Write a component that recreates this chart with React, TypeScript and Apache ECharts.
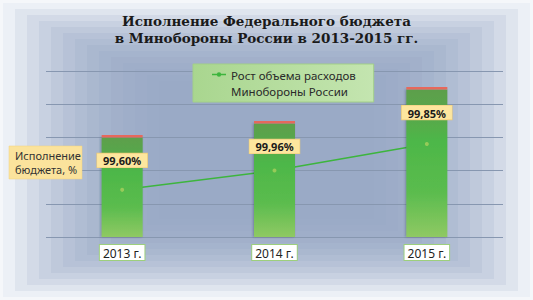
import React, { useEffect, useRef } from "react";
import * as echarts from "echarts";

const categories = ["2013 г.", "2014 г.", "2015 г."];
const executedValues = [1500, 1710, 2220];
const unexecutedValues = [36, 36, 38];
const executionPercent = ["99,60%", "99,96%", "99,85%"];
const growthValues = [710, 1000, 1400];
const yTicks = [0, 500, 1000, 1500, 2000, 2500];

const titleText = "Исполнение Федерального бюджета\nв Минобороны России в 2013-2015 гг.";
const lineName = "Рост объема расходов\nМинобороны России";
const sideNote = "Исполнение\nбюджета, %";

function mix(a: number[], b: number[], t: number) {
  const c = a.map((v, i) => Math.round(v + (b[i] - v) * t));
  return `rgb(${c[0]},${c[1]},${c[2]})`;
}

export default function App() {
  const ref = useRef<HTMLDivElement>(null);
  useEffect(() => {
    document.body.style.margin = "0";
    if (!ref.current) return;
    const chart = echarts.init(ref.current, null, { renderer: "svg" });

    const bg: any[] = [
      { type: "rect", shape: { x: 0, y: 0, width: 533, height: 300 }, style: { fill: "#f5f7fa" }, silent: true, z: -20 },
    ];
    const N = 16;
    const outer = [236, 240, 246];
    const inner = [154, 170, 198];
    for (let i = 1; i <= N; i++) {
      const x = 3 + (i - 1) * 12;
      const y = 3 + (i - 1) * 6;
      const t = 1 - Math.pow(1 - (i - 1) / (N - 1), 2.6);
      bg.push({
        type: "rect",
        shape: { x, y, width: 533 - 2 * x, height: 300 - 2 * y },
        style: { fill: mix(outer, inner, t) },
        silent: true,
        z: -20 + i * 0.01,
      });
    }
    bg.push({
      type: "rect",
      shape: { x: 9, y: 146, width: 73, height: 33 },
      style: { fill: "#fbe39c", stroke: "#f1d27e", lineWidth: 0.5 },
      z: 10,
    });
    bg.push({
      type: "text",
      x: 15,
      y: 162.5,
      style: {
        text: sideNote,
        fill: "#333333",
        font: "11px 'Noto Sans'",
        lineHeight: 14,
        verticalAlign: "middle",
        align: "left",
      },
      z: 11,
    });

    const greenGrad = new echarts.graphic.LinearGradient(0, 0, 0, 1, [
      { offset: 0, color: "#5c9f4b" },
      { offset: 0.2, color: "#57a94b" },
      { offset: 0.35, color: "#4db748" },
      { offset: 0.7, color: "#5bbc4e" },
      { offset: 1, color: "#8fc963" },
    ]);

    chart.setOption({
      animation: false,
      title: {
        text: titleText,
        left: "center",
        top: 7,
        textStyle: {
          fontFamily: "DejaVu Serif",
          fontWeight: "bold",
          fontSize: 13.5,
          lineHeight: 17,
          color: "#1a1a1a",
        },
      },
      graphic: bg,
      legend: {
        data: [lineName],
        left: 193,
        top: 64,
        orient: "vertical",
        padding: [3, 18, 3, 19],
        backgroundColor: {
          type: "linear",
          x: 0,
          y: 0,
          x2: 1,
          y2: 0,
          colorStops: [
            { offset: 0, color: "#a9d68f" },
            { offset: 1, color: "#c4e5b0" },
          ],
        },
        borderColor: "#a2cf88",
        borderWidth: 1,
        itemWidth: 14,
        itemHeight: 32,
        icon: "path://M0,0 L0,0 M0,6.8 L14,6.8 L14,8.2 L0,8.2 Z M7,5.3 A2.2,2.2 0 1 1 7,9.7 A2.2,2.2 0 1 1 7,5.3 Z M14,32 L14,32",
        textStyle: {
          fontFamily: "Noto Sans",
          fontSize: 11.5,
          lineHeight: 16,
          color: "#2a2a2a",
        },
        selectedMode: false,
      },
      grid: { left: 46, right: 30, top: 71, bottom: 63 },
      xAxis: {
        type: "category",
        data: categories,
        axisLine: { show: false },
        axisTick: { show: false },
        axisLabel: {
          margin: 8,
          fontFamily: "Noto Sans",
          fontSize: 12,
          color: "#222222",
          backgroundColor: "#ffffff",
          borderColor: "#9dcf7d",
          borderWidth: 1,
          padding: [2, 3, 1, 3],
        },
      },
      yAxis: {
        type: "value",
        min: yTicks[0],
        max: yTicks[yTicks.length - 1],
        interval: yTicks[1] - yTicks[0],
        axisLabel: { show: false },
        axisLine: { show: false },
        axisTick: { show: false },
        splitLine: { lineStyle: { color: "#8797b0", width: 1 } },
      },
      series: [
        {
          name: lineName,
          type: "line",
          data: growthValues,
          z: 2,
          showSymbol: false,
          symbol: "circle",
          color: "#3db53d",
          lineStyle: { color: "#3db53d", width: 1.5 },
        },
        {
          name: "Исполнено",
          type: "bar",
          stack: "budget",
          data: executedValues,
          barWidth: 41,
          z: 3,
          itemStyle: {
            color: greenGrad,
            shadowColor: "rgba(40,50,70,0.35)",
            shadowBlur: 2,
            shadowOffsetX: -1,
          },
          label: {
            show: true,
            position: "insideTop",
            distance: 16,
            formatter: (p: any) => executionPercent[p.dataIndex],
            fontFamily: "Noto Sans",
            fontWeight: "bold",
            fontSize: 11,
            color: "#1a1a1a",
            backgroundColor: "#fde69e",
            borderColor: "#ecc974",
            borderWidth: 0.6,
            padding: [2, 6, 1, 6],
          },
        },
        {
          name: "Не исполнено",
          type: "bar",
          stack: "budget",
          data: unexecutedValues,
          barWidth: 41,
          z: 3,
          itemStyle: { color: "#e6685c" },
        },
        {
          name: "Точки роста",
          type: "scatter",
          data: growthValues,
          z: 5,
          symbol: "circle",
          symbolSize: 4,
          itemStyle: { color: "#a8d05c" },
        },
      ],
    });
    return () => chart.dispose();
  }, []);
  return <div ref={ref} style={{ width: 533, height: 300 }} />;
}
